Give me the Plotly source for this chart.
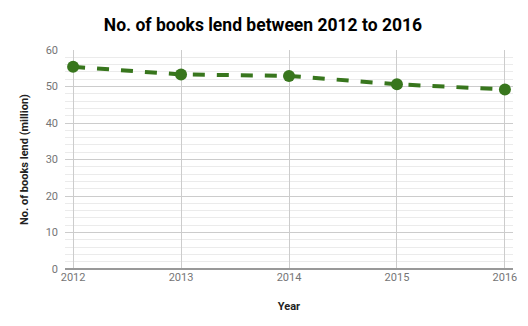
import plotly.graph_objects as go

years = [2012, 2013, 2014, 2015, 2016]
books = [55.4, 53.3, 52.9, 50.6, 49.2]
y_ticks = [0, 10, 20, 30, 40, 50, 60]

fig = go.Figure()
fig.add_trace(go.Scatter(
    x=years, y=books, mode="lines+markers",
    line=dict(color="#38761d", width=4, dash="dash"),
    marker=dict(color="#38761d", size=12),
    showlegend=False,
))

fig.update_layout(
    width=528, height=326,
    margin=dict(l=65, r=15, t=50, b=57),
    paper_bgcolor="white", plot_bgcolor="white",
    font=dict(family="Roboto", color="#757575", size=11),
    title=dict(text="<b>No. of books lend between 2012 to 2016</b>",
               x=0.498, xanchor="center", y=0.923, yanchor="middle",
               font=dict(family="Roboto", size=17.5, color="#000000")),
    xaxis=dict(
        range=[2011.925, 2016.075], tickmode="array", tickvals=years,
        ticktext=[str(y) for y in years],
        showgrid=True, gridcolor="#cccccc", gridwidth=1,
        zeroline=False, showline=False, ticks="",
        title=dict(text="<b>Year</b>", font=dict(size=11, color="#222222"), standoff=19),
    ),
    yaxis=dict(
        range=[0, 60], tickmode="array", tickvals=y_ticks,
        showgrid=True, gridcolor="#cccccc", gridwidth=1,
        minor=dict(dtick=2, showgrid=True, gridcolor="#ebebeb", gridwidth=1),
        zeroline=True, zerolinecolor="#999999", zerolinewidth=2,
        showline=False, ticks="", ticklabelstandoff=6,
        title=dict(text="<b>No. of books lend (million)</b>", font=dict(size=11, color="#222222"), standoff=14),
    ),
)

fig.write_html("out.html")
